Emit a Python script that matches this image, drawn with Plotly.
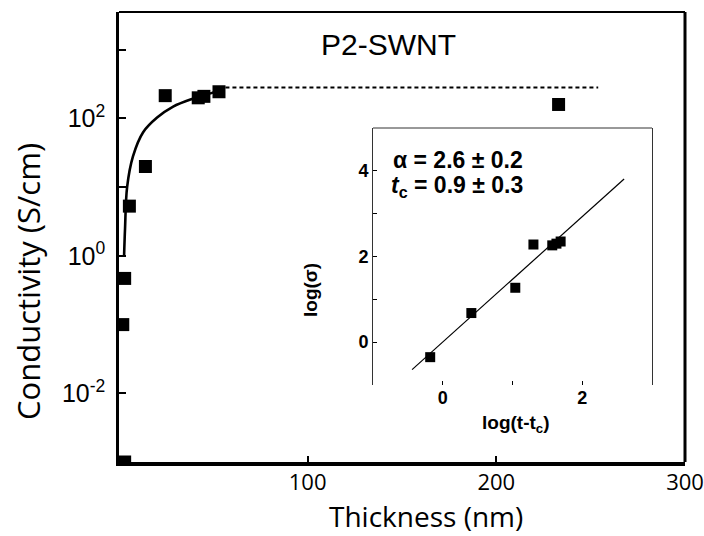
import plotly.graph_objects as go

# ---------------- data ----------------
thickness_nm = [3, 2, 3, 5.5, 14, 24.5, 42, 45, 53, 233]
conductivity = [0.001, 0.1, 0.47, 5.3, 20, 215, 200, 210, 245, 160]

fit_t = [2.7, 3.2, 4.3, 7.4, 12.8, 20.2, 28.7, 39.4, 50, 52.7]
fit_sigma = [1, 2.5, 10, 28, 63, 103, 149, 195, 240, 256]

plateau_t = [52.7, 254]
plateau_sigma = [282, 282]

inset_x = [-0.18, 0.41, 1.04, 1.30, 1.57, 1.63, 1.69]
inset_y = [-0.35, 0.68, 1.27, 2.28, 2.26, 2.30, 2.35]
inset_fit_x = [-0.44, 2.6]
inset_fit_y = [-0.64, 3.81]

main_xticks = [100, 200, 300]
main_yticks = [1e-2, 1, 1e2]
main_yticktext = ["10<sup>-2</sup>", "10<sup>0</sup>", "10<sup>2</sup>"]
main_yminor = [1e-3, 1e-1, 1e1, 1e3]
inset_xticks = [0, 2]
inset_xminor = [-1, 1, 3]
inset_yticks = [0, 2, 4]
inset_yminor = [-1, 1, 3, 5]

# ---------------- layout geometry ----------------
W, H = 704, 536
L, R, T, B = 119, 685, 12, 462


def px(x):
    return (x - L) / (R - L)


def py(y):
    return (B - y) / (B - T)


ARIAL = "Liberation Sans, Arial, sans-serif"
MYRIAD = "Open Sans, sans-serif"

fig = go.Figure()

# main plot
fig.add_trace(go.Scatter(x=plateau_t, y=plateau_sigma, mode="lines",
                         line=dict(color="black", width=2, dash="4px,3px"),
                         showlegend=False, hoverinfo="skip"))
fig.add_trace(go.Scatter(x=fit_t, y=fit_sigma, mode="lines", line_shape="spline",
                         line=dict(color="black", width=2.6),
                         showlegend=False, hoverinfo="skip"))
fig.add_trace(go.Scatter(x=thickness_nm, y=conductivity, mode="markers",
                         marker=dict(symbol="square", size=13, color="black"),
                         showlegend=False))

# inset
fig.add_trace(go.Scatter(x=inset_fit_x, y=inset_fit_y, mode="lines",
                         line=dict(color="black", width=1.2),
                         xaxis="x2", yaxis="y2", showlegend=False, hoverinfo="skip"))
fig.add_trace(go.Scatter(x=inset_x, y=inset_y, mode="markers",
                         marker=dict(symbol="square", size=10, color="black"),
                         xaxis="x2", yaxis="y2", showlegend=False))

inset_dom_x = [px(373), px(652)]
inset_dom_y = [py(385), py(128)]


def ann(text, x, y, font, xanchor="center", textangle=0):
    return dict(text=text, x=px(x), y=py(y), xref="paper", yref="paper",
                xanchor=xanchor, yanchor="middle", showarrow=False,
                textangle=textangle, font=font)


fig.update_layout(
    template="none",
    width=W, height=H,
    margin=dict(l=L, r=W - R, t=T, b=H - B, autoexpand=False),
    paper_bgcolor="white", plot_bgcolor="white",
    xaxis=dict(range=[0, 300], tickvals=main_xticks, ticks="inside", ticklen=6,
               tickwidth=1.5, tickcolor="black", showgrid=False, zeroline=False,
               showline=True, linewidth=4, linecolor="black", automargin=False,
               ticklabelstandoff=-2,
               tickfont=dict(family=MYRIAD, size=22, color="black")),
    yaxis=dict(type="log", range=[-3, 3.55], tickvals=main_yticks,
               ticktext=main_yticktext, ticks="inside", ticklen=7,
               tickwidth=1.5, tickcolor="black", showgrid=False, zeroline=False,
               showline=True, linewidth=2.5, linecolor="black", automargin=False,
               ticklabelstandoff=6,
               minor=dict(tickvals=main_yminor, ticks="inside", ticklen=7,
                          tickwidth=1.5, tickcolor="black", showgrid=False),
               tickfont=dict(family=ARIAL, size=25, color="black")),
    xaxis2=dict(domain=inset_dom_x, anchor="y2", range=[-1, 3],
                tickvals=inset_xticks,
                ticks="inside", ticklen=4, tickwidth=1, tickcolor="black",
                showgrid=False, zeroline=False, showline=False, automargin=False,
                minor=dict(tickvals=inset_xminor, ticks="inside", ticklen=4,
                           tickwidth=1, tickcolor="black", showgrid=False),
                tickfont=dict(family=ARIAL, size=18, color="black", weight="bold")),
    yaxis2=dict(domain=inset_dom_y, anchor="x2", range=[-1, 5],
                tickvals=inset_yticks,
                ticks="inside", ticklen=4, tickwidth=1, tickcolor="black",
                showgrid=False, zeroline=False, showline=True, mirror=True,
                linewidth=1, linecolor="#333333", automargin=False,
                minor=dict(tickvals=inset_yminor, ticks="inside", ticklen=4,
                           tickwidth=1, tickcolor="black", showgrid=False),
                tickfont=dict(family=ARIAL, size=18, color="black", weight="bold")),
    shapes=[
        # top and right frame of the main plot
        dict(type="line", xref="paper", yref="paper", x0=0, x1=1, y0=1, y1=1,
             line=dict(color="black", width=2)),
        dict(type="line", xref="paper", yref="paper", x0=1, x1=1, y0=0, y1=1,
             line=dict(color="black", width=3)),
        # top frame of the inset
        dict(type="line", xref="paper", yref="paper", x0=inset_dom_x[0], x1=inset_dom_x[1],
             y0=inset_dom_y[1], y1=inset_dom_y[1], line=dict(color="#333333", width=1)),
    ],
    annotations=[
        ann("P2-SWNT", 388, 44, dict(family=ARIAL, size=30, color="black")),
        ann("Thickness (nm)", 426, 516, dict(family=MYRIAD, size=28, color="black")),
        ann("Conductivity (S/cm)", 28, 282, dict(family=MYRIAD, size=31, color="black"),
            textangle=-90),
        ann("α = 2.6 ± 0.2", 391, 160,
            dict(family=ARIAL, size=23, color="black", weight="bold"), xanchor="left"),
        ann("<i>t</i><sub>c</sub> = 0.9 ± 0.3", 389, 187,
            dict(family=ARIAL, size=23, color="black", weight="bold"), xanchor="left"),
        ann("log(σ)", 310, 290, dict(family=ARIAL, size=19, color="black", weight="bold"),
            textangle=-90),
        ann("log(t-t<sub>c</sub>)", 516, 424,
            dict(family=ARIAL, size=19, color="black", weight="bold")),
    ],
)

fig.write_html("out.html")
